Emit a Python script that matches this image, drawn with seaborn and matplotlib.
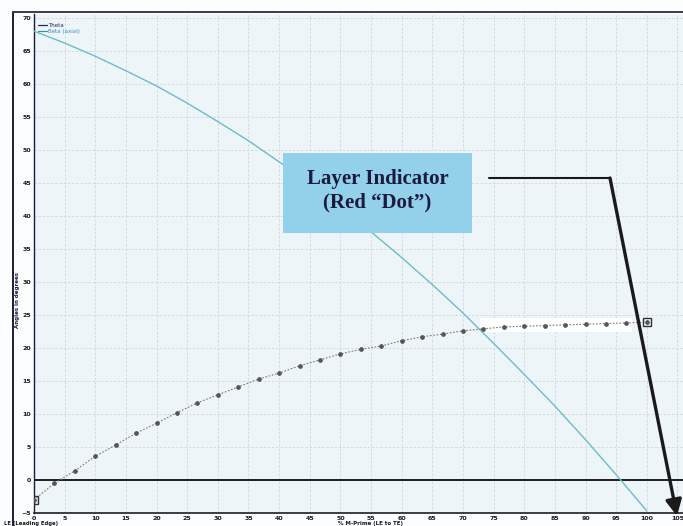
import numpy as np
import pandas as pd
import matplotlib
matplotlib.use("Agg")
import matplotlib.pyplot as plt
import seaborn as sns
from matplotlib.patches import Rectangle, FancyArrowPatch
from matplotlib.lines import Line2D

# ---- data ----
theta_x = [0, 5, 10, 15, 20, 25, 30, 35, 40, 45, 50, 55, 60, 65, 70, 75, 80, 85, 90, 95, 100]
theta_y = [68.0, 66.2, 64.2, 62.0, 59.7, 57.1, 54.3, 51.4, 48.2, 44.9, 41.4, 37.6,
           33.7, 29.6, 25.3, 20.7, 16.0, 11.2, 6.1, 0.8, -4.7]

beta_x = [0, 3.33, 6.67, 10, 13.33, 16.67, 20, 23.33, 26.67, 30, 33.33, 36.67, 40,
          43.33, 46.67, 50, 53.33, 56.67, 60, 63.33, 66.67, 70, 73.33, 76.67, 80,
          83.33, 86.67, 90, 93.33, 96.67, 100]
beta_y = [-3.0, -0.5, 1.4, 3.6, 5.3, 7.1, 8.6, 10.2, 11.7, 12.9, 14.1, 15.3, 16.2,
          17.3, 18.2, 19.1, 19.8, 20.3, 21.1, 21.7, 22.1, 22.6, 22.9, 23.2, 23.3,
          23.4, 23.5, 23.6, 23.7, 23.8, 23.9]

x_ticks = list(range(0, 110, 5))
y_ticks = list(range(-5, 75, 5))
series_names = ["Theta", "Beta (axial)"]
x_label = "% M-Prime (LE to TE)"
y_label = "Angles in degrees"
corner_label = "LE (Leading Edge)"
box_text = "Layer Indicator\n(Red \u201cDot\u201d)"

df_theta = pd.DataFrame({"x": theta_x, "y": theta_y})
df_beta = pd.DataFrame({"x": beta_x, "y": beta_y})

sns.set_theme(style="white")
plt.rcParams["font.family"] = ["DejaVu Sans"]

W, H = 683, 526
fig = plt.figure(figsize=(W / 100, H / 100), dpi=100)
fig.patch.set_facecolor("#fbfcfd")

ax = fig.add_axes([34 / W, 1 - 513 / H, (W - 34) / W, (513 - 14) / H])
ax.set_facecolor("#eef5f9")

ax.set_xlim(0, 105.9)
ax.set_ylim(-5, 70.6)
ax.set_xticks(x_ticks)
ax.set_yticks(y_ticks)
ax.grid(True, color="#d0d8dd", lw=0.6, ls=(0, (3, 2)))
ax.set_axisbelow(True)

# white band behind the flat part of the dotted curve
ax.add_patch(Rectangle((0.687, 0.363), 0.235, 0.028, transform=ax.transAxes,
                       facecolor="white", edgecolor="none", zorder=1.5))

ax.axhline(0, color="#1e1e22", lw=1.4, zorder=2)

sns.lineplot(data=df_theta, x="x", y="y", ax=ax, color="#6bbccb", lw=1.0,
             zorder=3, label=series_names[1])
sns.lineplot(data=df_beta, x="x", y="y", ax=ax, color="#7a7a7a", lw=0.8,
             ls=(0, (1.5, 1.5)), marker="o", markersize=2.6,
             markerfacecolor="#555", markeredgecolor="#555", zorder=4,
             label=series_names[0])
ax.plot([beta_x[0], beta_x[-1]], [beta_y[0], beta_y[-1]], ls="none", marker="s",
        markersize=6, markerfacecolor="none", markeredgecolor="#333",
        markeredgewidth=1.0, zorder=5)

for s in ["top", "right"]:
    ax.spines[s].set_visible(False)
ax.spines["left"].set_color("#1c1c3a")
ax.spines["left"].set_linewidth(1.0)
ax.spines["bottom"].set_color("#1e1e22")
ax.spines["bottom"].set_linewidth(1.2)

ax.tick_params(axis="both", length=0, pad=2, labelsize=4.5, labelcolor="#1a1a1a")
for lab in ax.get_xticklabels() + ax.get_yticklabels():
    lab.set_fontweight("bold")
ax.set_xlabel("")
ax.set_ylabel("")

fig.text(17 / W, 1 - 300 / H, y_label, rotation=90, fontsize=4, fontweight="bold",
         color="#1c1c3a", ha="center", va="center")
fig.text(338 / W, 1 - 523 / H, x_label, fontsize=4, fontweight="bold",
         color="#1a1a1a", ha="left", va="center")
fig.text(4 / W, 1 - 523 / H, corner_label, fontsize=3.8, fontweight="bold",
         color="#1a1a1a", ha="left", va="center")

h, l = ax.get_legend_handles_labels()
order = [l.index(series_names[0]), l.index(series_names[1])]
ax.get_legend().remove()
leg_colors = ["#1c2a6a", "#3a8fb0"]
new_handles = [Line2D([], [], color=leg_colors[0], lw=0.9),
               Line2D([], [], color=leg_colors[1], lw=0.9)]
leg = ax.legend(new_handles, [l[i] for i in order], loc="upper left",
                bbox_to_anchor=(0.0, 0.99), frameon=False, fontsize=4,
                handlelength=1.6, handletextpad=0.3, labelspacing=0.2, borderpad=0.2)
for t, c in zip(leg.get_texts(), leg_colors):
    t.set_color(c)

# callout box
bx0, bx1 = (283 - 34) / 649, (472 - 34) / 649
by0, by1 = (513 - 233) / 499, (513 - 153) / 499
ax.add_patch(Rectangle((bx0, by0), bx1 - bx0, by1 - by0, transform=ax.transAxes,
                       facecolor="#93d0ea", edgecolor="none", zorder=6))
ax.text((bx0 + bx1) / 2, (by0 + by1) / 2 + 0.005, box_text, transform=ax.transAxes,
        ha="center", va="center", fontsize=15, fontweight="bold",
        family=["Liberation Serif", "DejaVu Serif"], color="#1b1b3f",
        linespacing=1.2, zorder=7)

# arrow path
p0 = ((489 - 34) / 649, (513 - 178) / 499)
p1 = ((610 - 34) / 649, (513 - 178) / 499)
p2 = ((677 - 34) / 649, (513 - 516) / 499)
ax.plot([p0[0], p1[0]], [p0[1], p1[1]], transform=ax.transAxes, color="#1a1a1a",
        lw=1.5, zorder=8, clip_on=False)
arr = FancyArrowPatch(p1, p2, transform=ax.transAxes, arrowstyle="-|>",
                      mutation_scale=24, color="#1a1a1a", lw=2.4, zorder=8,
                      clip_on=False, shrinkA=0, shrinkB=0)
ax.add_patch(arr)

# outer frame of the scanned screenshot
fig.add_artist(Line2D([13 / W, 13 / W], [0, 1 - 12 / H], color="#1c1c3a", lw=1.4))
fig.add_artist(Line2D([13 / W, 1], [1 - 12 / H, 1 - 12 / H], color="#3a3a48", lw=1.4))

fig.savefig("out.png", dpi=100, facecolor=fig.get_facecolor())
